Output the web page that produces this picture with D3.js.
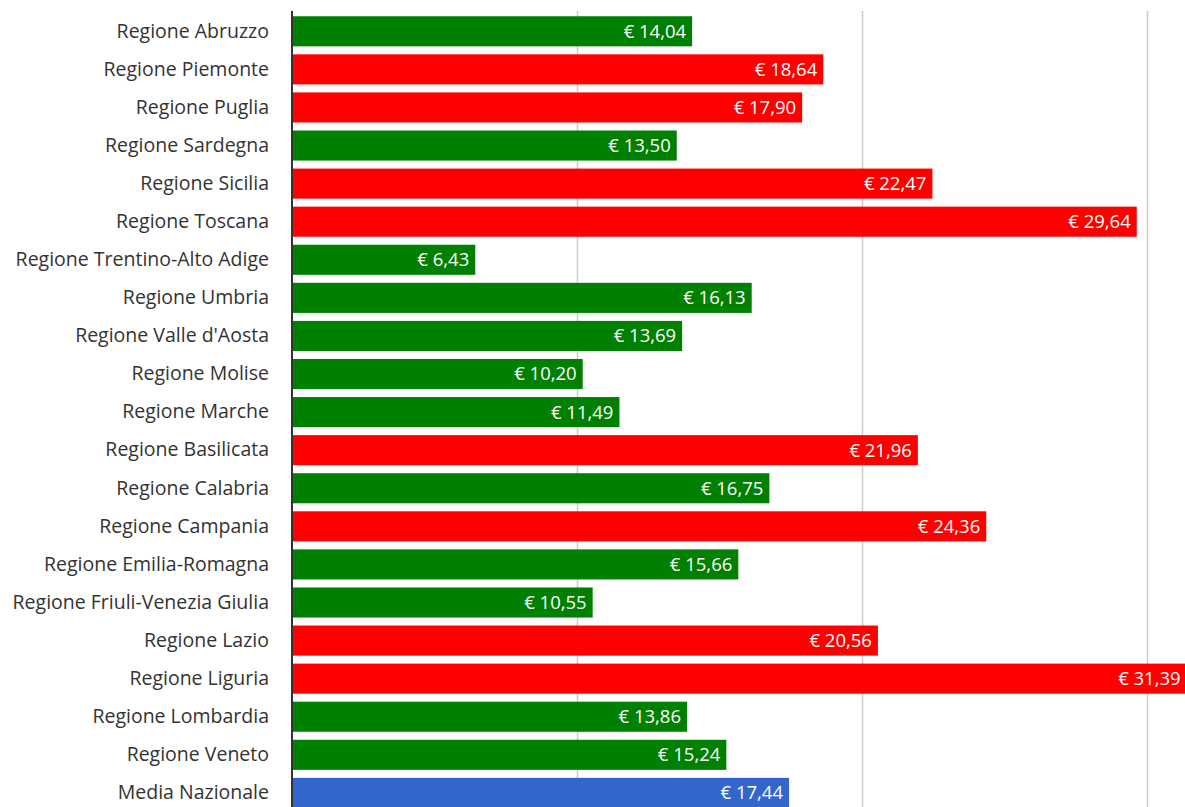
<!DOCTYPE html>
<html>
<head>
<meta charset="utf-8">
<script src="https://cdn.jsdelivr.net/npm/d3@7"></script>
<style>
  html, body { margin: 0; padding: 0; background: #fff; }
  svg { display: block; font-family: "Open Sans", "Noto Sans", sans-serif; }
</style>
</head>
<body>
<svg id="chart" width="1185" height="807"></svg>
<script>
(function() {
  'use strict';

  // regions, top to bottom as in the picture
  var regions = [
    'Regione Abruzzo', 'Regione Piemonte', 'Regione Puglia', 'Regione Sardegna',
    'Regione Sicilia', 'Regione Toscana', 'Regione Trentino-Alto Adige',
    'Regione Umbria', "Regione Valle d'Aosta", 'Regione Molise', 'Regione Marche',
    'Regione Basilicata', 'Regione Calabria', 'Regione Campania',
    'Regione Emilia-Romagna', 'Regione Friuli-Venezia Giulia', 'Regione Lazio',
    'Regione Liguria', 'Regione Lombardia', 'Regione Veneto', 'Media Nazionale'
  ];

  var costs = [
    14.04, 18.64, 17.90, 13.50, 22.47, 29.64, 6.43, 16.13, 13.69, 10.20, 11.49,
    21.96, 16.75, 24.36, 15.66, 10.55, 20.56, 31.39, 13.86, 15.24, 17.44
  ];

  var average = 'Media Nazionale';
  var gridTicks = [0, 10, 20, 30, 40];

  var colorAbove = '#ff0000';
  var colorBelow = '#008000';
  var colorAverage = '#3366cc';

  var data = regions.map(function(r, i) {
    return { name: r, value: costs[i] };
  });
  var avgValue = costs[regions.indexOf(average)];

  var svg = d3.select('#chart');

  // chart is wider than the window, so the 40 mark falls off the right edge
  var x = d3.scaleLinear().domain([0, 40]).range([292, 292 + 285 * 4]);
  var step = 38.08;
  var top = 31.3 - step / 2;
  var y = d3.scaleBand()
    .domain(regions)
    .range([top, top + step * regions.length])
    .paddingInner(0.21)
    .paddingOuter(0.105);

  var plotTop = 11;

  // vertical gridlines
  svg.append('g').attr('class', 'grid')
    .selectAll('line')
    .data(gridTicks.filter(function(t) { return t > 0; }))
    .enter().append('line')
    .attr('x1', function(d) { return Math.round(x(d)) + 0.5; })
    .attr('x2', function(d) { return Math.round(x(d)) + 0.5; })
    .attr('y1', plotTop)
    .attr('y2', 807)
    .attr('stroke', '#cccccc')
    .attr('stroke-width', 1.5);

  var fmt = function(v) {
    return '\u20ac ' + v.toFixed(2).replace('.', ',');
  };

  var bars = svg.append('g').attr('class', 'bars')
    .selectAll('g')
    .data(data)
    .enter().append('g');

  bars.append('rect')
    .attr('x', x(0))
    .attr('y', function(d) { return y(d.name); })
    .attr('width', function(d) { return x(d.value) - x(0); })
    .attr('height', y.bandwidth())
    .attr('fill', function(d) {
      if (d.name === average) { return colorAverage; }
      return d.value > avgValue ? colorAbove : colorBelow;
    });

  bars.append('text')
    .attr('x', function(d) { return x(d.value) - 6; })
    .attr('y', function(d) { return y(d.name) + y.bandwidth() / 2; })
    .attr('dy', '0.35em')
    .attr('text-anchor', 'end')
    .attr('fill', '#ffffff')
    .style('font-size', '18.5px')
    .text(function(d) { return fmt(d.value); });

  // category labels
  var axis = d3.axisLeft(y).tickSize(0).tickPadding(23);
  var g = svg.append('g')
    .attr('transform', 'translate(' + x(0) + ',0)')
    .call(axis);
  g.select('.domain').remove();
  g.selectAll('text')
    .attr('fill', '#333333')
    .style('font-size', '19.5px')
    .style('font-family', '"Open Sans", "Noto Sans", sans-serif');

  // baseline
  svg.append('line')
    .attr('x1', x(0))
    .attr('x2', x(0))
    .attr('y1', plotTop)
    .attr('y2', 807)
    .attr('stroke', '#333333')
    .attr('stroke-width', 2);
})();
</script>
</body>
</html>
